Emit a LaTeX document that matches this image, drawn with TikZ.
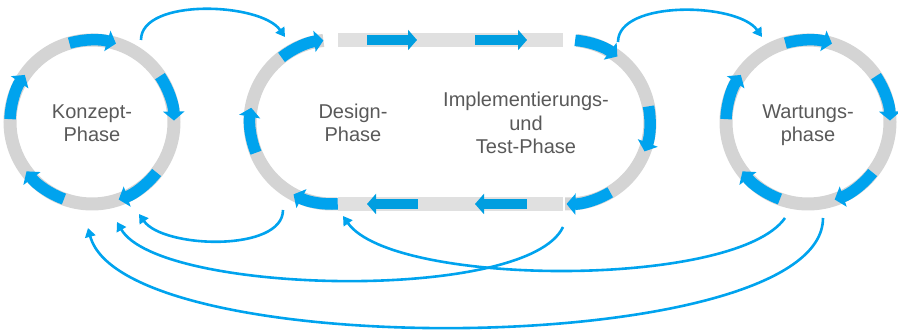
\documentclass[tikz,border=0pt]{standalone}
\usepackage{fontspec}
\setmainfont{Liberation Sans}
\usetikzlibrary{arrows.meta, calc}
\definecolor{ringgray}{RGB}{212,212,212}
\definecolor{bargray}{RGB}{224,224,224}
\definecolor{flowblue}{RGB}{0,163,238}
\definecolor{barblue}{RGB}{0,158,224}
\definecolor{textgray}{RGB}{89,89,89}
\tikzstyle{ring}=[draw=ringgray, line width=13pt]
\tikzstyle{seg}=[draw=flowblue, line width=11.5pt, -{Triangle[width=21pt,length=9pt]}]
\tikzstyle{bar}=[draw=bargray, line width=14pt]
\tikzstyle{bararrow}=[draw=barblue, line width=10pt, -{Triangle[width=20pt,length=9pt]}]
\tikzstyle{flow}=[draw=flowblue, line width=2.6pt, -{Triangle[width=10.5pt,length=9pt]}]
\tikzstyle{phase}=[align=center, text=textgray, font=\fontsize{20}{23.5}\selectfont, inner sep=0pt]

\begin{document}
\begin{tikzpicture}[x=1pt,y=1pt]
\useasboundingbox (0,0) rectangle (898,331);
% centres of the phases
\coordinate (konzept) at (92,209);
\coordinate (wartung) at (808,209);
\coordinate (designc) at (332,209);
\coordinate (implc) at (568,209);
% round phases with five arrows each
\foreach \c in {konzept,wartung}{
  \draw[ring] (\c) circle[radius=82pt];
  \foreach \a in {106,34,-38,-110,-182}{
    \draw[seg] ($(\c)+(\a:82pt)$) arc[start angle=\a, delta angle=-33, radius=82pt];
  }
}
% long phase: two half rings and two bars
\draw[ring] ($(designc)+(96:82pt)$) arc[start angle=96, end angle=274, radius=82pt];
\draw[ring] ($(implc)+(-92:82pt)$) arc[start angle=-92, end angle=84, radius=82pt];
\draw[bar] (338,291) -- (563,291);
\draw[bar] (338,127) -- (563,127);
\foreach \a in {128,202,274}{
  \draw[seg] ($(designc)+(\a:82pt)$) arc[start angle=\a, delta angle=-32, radius=82pt];
}
\foreach \a in {85,11,-59}{
  \draw[seg] ($(implc)+(\a:82pt)$) arc[start angle=\a, delta angle=-32, radius=82pt];
}
\draw[bararrow] (367,291) -- (417,291);
\draw[bararrow] (475,291) -- (527,291);
\draw[bararrow] (418,127) -- (367,127);
\draw[bararrow] (527,127) -- (475,127);
% labels
\node[phase] (konzepttext) at (92,208) {Konzept-\\Phase};
\node[phase] (designtext) at (353,208) {Design-\\Phase};
\node[phase] (impltext) at (526,208) {Implementierungs-\\und\\Test-Phase};
\node[phase] (wartungtext) at (808,206) {Wartungs-\\phase};
% ends of the links
\coordinate (kOut) at (141,291); \coordinate (dIn) at (285,294);
\coordinate (iOut) at (618,289); \coordinate (wIn) at (762,294);
\coordinate (dOut) at (283,121); \coordinate (kIn1) at (139,117);
\coordinate (iBack) at (563,104); \coordinate (kIn2) at (117,109);
\coordinate (wBack1) at (785,113); \coordinate (dIn2) at (343,115);
\coordinate (wBack2) at (823,113); \coordinate (kIn3) at (88,103);
% links forward
\draw[flow] (kOut) to[out=90, in=125, looseness=0.75] (dIn);
\draw[flow] (iOut) to[out=90, in=125, looseness=0.75] (wIn);
% links back
\draw[flow] (dOut) to[out=-90, in=-55, looseness=0.75] (kIn1);
\draw[flow] (iBack) to[out=-115, in=-60, looseness=0.48] (kIn2);
\draw[flow] (wBack1) to[out=-125, in=-55, looseness=0.5] (dIn2);
\draw[flow] (wBack2) to[out=-90, in=-75, looseness=0.49] (kIn3);
\end{tikzpicture}
\end{document}
